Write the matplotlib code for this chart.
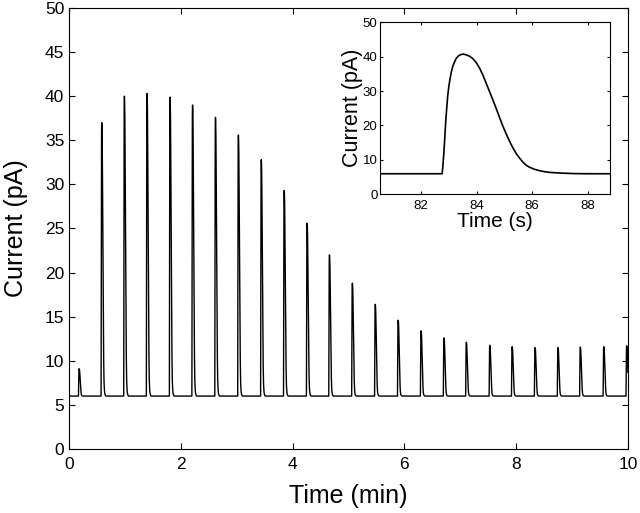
import numpy as np
import matplotlib.pyplot as plt

plt.rcParams['font.family'] = ['Liberation Sans', 'DejaVu Sans']

# inset trace: one response, time (s) and current (pA)
inset_t = [80.5, 82.756, 82.78, 82.817, 82.853, 82.889, 82.925, 82.96, 82.997,
           83.045, 83.093, 83.14, 83.2, 83.26, 83.344, 83.44, 83.525, 83.62,
           83.74, 83.86, 83.98, 84.1, 84.22, 84.34, 84.46, 84.58, 84.70,
           84.82, 84.94, 85.06, 85.18, 85.30, 85.42, 85.54, 85.66, 85.78,
           85.90, 86.08, 86.26, 86.44, 86.62, 87.0, 87.5, 88.0, 88.8]
inset_i = [6.0, 6.0, 8.0, 11.9, 16.8, 21.6, 25.5, 28.9, 31.3,
           33.8, 35.7, 37.2, 38.4, 39.4, 40.2, 40.6, 40.7, 40.5,
           40.1, 39.4, 38.3, 36.7, 34.7, 32.3, 29.9, 27.5, 25.0,
           22.4, 19.9, 17.6, 15.5, 13.6, 11.9, 10.6, 9.4, 8.5,
           7.9, 7.3, 6.9, 6.6, 6.4, 6.2, 6.05, 6.0, 6.0]

baseline = 6.0
# peak times (min) and peak currents (pA) of the train of responses
peak_times = [0.18, 0.585, 0.99, 1.395, 1.807, 2.21, 2.62, 3.03, 3.44, 3.85,
              4.26, 4.66, 5.07, 5.48, 5.89, 6.30, 6.71, 7.11, 7.53, 7.93,
              8.34, 8.75, 9.15, 9.57, 9.98]
peak_amps = [9.1, 37.0, 40.0, 40.3, 39.9, 39.0, 37.6, 35.6, 32.8, 29.3,
             25.6, 22.0, 18.8, 16.4, 14.6, 13.4, 12.6, 12.1, 11.75, 11.6,
             11.5, 11.5, 11.55, 11.6, 11.7]

# build the long trace from the inset response shape, rescaled per peak
shape_t = np.array(inset_t[1:-1])
shape_i = np.array(inset_i[1:-1])
t_peak = shape_t[np.argmax(shape_i)]
norm = (shape_i - baseline) / (shape_i.max() - baseline)
tt, ii = [0.0], [baseline]
for tp, a in zip(peak_times, peak_amps):
    tt.extend(tp + (shape_t - t_peak) / 60.0)
    ii.extend(baseline + norm * (a - baseline))
tt.append(10.5)
ii.append(baseline)

fig = plt.figure(figsize=(6.4, 5.13), dpi=100)
ax = fig.add_axes([0.108, 0.1248, 0.873, 0.8596])
ax.plot(tt, ii, color='black', lw=1.0)
ax.set_xlim(0, 10)
ax.set_ylim(0, 50)
ax.set_xticks(range(0, 11, 2))
ax.set_yticks(range(0, 51, 5))
ax.tick_params(axis='both', direction='in', top=True, right=True, length=4.3,
               labelsize=12.5)
ax.tick_params(axis='x', pad=6)
ax.tick_params(axis='y', pad=3.5)
ax.set_xlabel('Time (min)', fontsize=18, labelpad=8.5)
ax.set_ylabel('Current (pA)', fontsize=18)
ax.yaxis.set_label_coords(-0.074, 0.5)

ins = fig.add_axes([0.593, 0.621, 0.360, 0.336])
ins.plot(inset_t, inset_i, color='black', lw=1.2)
ins.set_xlim(80.5, 88.8)
ins.set_ylim(0, 50)
ins.set_xticks(range(82, 89, 2))
ins.set_yticks(range(0, 51, 10))
ins.tick_params(axis='both', direction='in', top=True, right=True, length=2,
                labelsize=9.5)
ins.tick_params(axis='x', pad=4)
ins.tick_params(axis='y', pad=1.5)
ins.set_xlabel('Time (s)', fontsize=15, labelpad=0)
ins.set_ylabel('Current (pA)', fontsize=15.5, labelpad=0)

fig.savefig('out.png', dpi=100)
